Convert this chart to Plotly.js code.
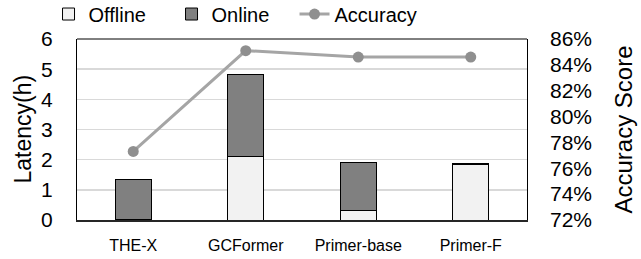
<!DOCTYPE html>
<html><head><meta charset="utf-8">
<script src="https://cdn.plot.ly/plotly-3.0.1.min.js"></script>
<style>html,body{margin:0;padding:0;background:#fff}#c{width:641px;height:259px}</style>
</head><body><div id="c"></div>
<script>
const categories = ['THE-X', 'GCFormer', 'Primer-base', 'Primer-F'];
const offline = [0.03, 2.09, 0.32, 1.83];
const online = [1.32, 2.72, 1.57, 0.05];
const accuracy = [77.3, 85.1, 84.6, 84.6];
const latencyTicks = [0, 1, 2, 3, 4, 5, 6];
const accTicks = [72, 74, 76, 78, 80, 82, 84, 86];
const accTickText = accTicks.map(v => v + '%');

const font = 'Liberation Sans, Arial, sans-serif';
const traces = [
  {type: 'bar', name: 'Offline', x: categories, y: offline,
   marker: {color: '#f2f2f2', line: {color: '#000', width: 1}}},
  {type: 'bar', name: 'Online', x: categories, y: online,
   marker: {color: '#808080', line: {color: '#000', width: 1}}},
  {type: 'scatter', mode: 'lines+markers', name: 'Accuracy', x: categories, y: accuracy, yaxis: 'y2',
   line: {color: '#a5a5a5', width: 3}, marker: {color: '#8f8f8f', size: 11}}
];
const layout = {
  width: 641, height: 259,
  margin: {l: 77, r: 114, t: 39, b: 39, pad: 0, autoexpand: false},
  barmode: 'stack', bargap: 0.68,
  paper_bgcolor: '#fff', plot_bgcolor: '#fff',
  font: {family: font, color: '#000', size: 20},
  showlegend: true,
  legend: {orientation: 'h', traceorder: 'normal', x: 0.0757, xref: 'container', xanchor: 'left',
    y: 1.138, yref: 'paper', yanchor: 'middle',
    font: {size: 20, family: font}, entrywidth: 78, entrywidthmode: 'pixels',
    itemwidth: 30, tracegroupgap: 0, bgcolor: 'rgba(0,0,0,0)'},
  xaxis: {type: 'category', showline: true, linecolor: '#262626', linewidth: 2, mirror: false,
    ticks: '', tickfont: {size: 16, family: font}, showgrid: false, ticklabelstandoff: 10},
  yaxis: {range: [0, 6], tickvals: latencyTicks, showgrid: true, gridcolor: '#d9d9d9', gridwidth: 1.5,
    showline: true, linecolor: '#000', linewidth: 1, mirror: true, ticks: '', zeroline: false,
    tickfont: {size: 21, family: font}, ticklabelstandoff: 19},
  yaxis2: {overlaying: 'y', side: 'right', range: [72, 86], tickvals: accTicks, ticktext: accTickText,
    showgrid: false, zeroline: false, ticks: '', showline: false,
    tickfont: {size: 21, family: font}, ticklabelstandoff: 22,
    title: {text: 'Accuracy Score', font: {size: 24, family: font}, standoff: 24}},
  annotations: [{text: 'Latency(h)', textangle: -90, xref: 'paper', yref: 'paper',
    x: -0.1222, y: 0.5, xanchor: 'center', yanchor: 'middle', showarrow: false,
    font: {size: 23, family: font, color: '#000'}}],
  shapes: [{type: 'line', xref: 'paper', yref: 'paper', x0: 0, x1: 1, y0: 1, y1: 1,
    line: {color: '#000', width: 1}}]
};
Plotly.newPlot('c', traces, layout, {displayModeBar: false, staticPlot: true});
</script></body></html>
